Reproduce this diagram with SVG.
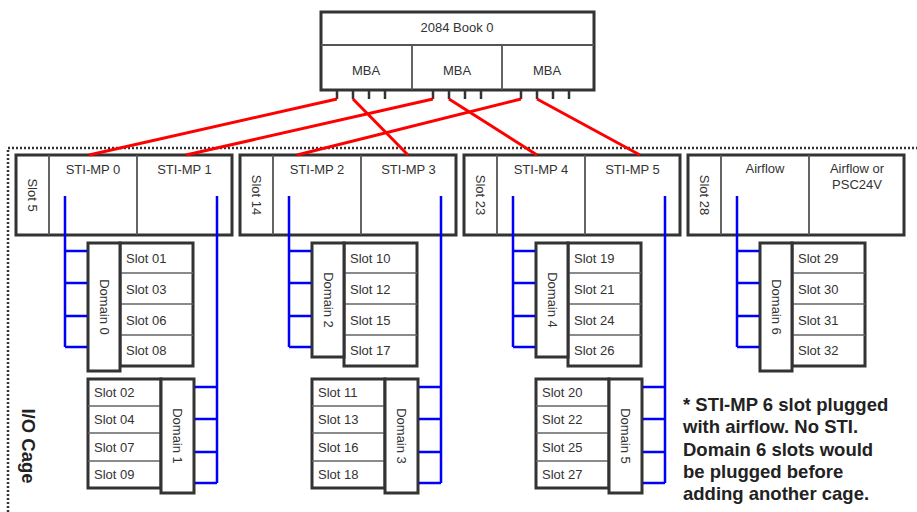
<svg xmlns="http://www.w3.org/2000/svg" width="917" height="512" viewBox="0 0 917 512">
<style>
.bg{fill:#fff}
.box{fill:#fff;stroke:#333;stroke-width:3}
.div{stroke:#555;stroke-width:1.8;fill:none}
.row{stroke:#666;stroke-width:1.5;fill:none}
.tick{stroke:#333;stroke-width:2.5}
.t{font-family:"Liberation Sans",Arial,sans-serif;font-size:13px;fill:#333}
.c{text-anchor:middle}
.r{text-anchor:middle;dominant-baseline:central}
.red{stroke:#f00;stroke-width:3;fill:none}
.blue{stroke:#00f;stroke-width:2.5;fill:none}
.cage{stroke:#333;stroke-width:2.5;stroke-dasharray:2 2;fill:none}
.b{font-family:"Liberation Sans",Arial,sans-serif;font-size:18.5px;font-weight:bold;fill:#222}
</style>
<rect class="bg" x="0" y="0" width="917" height="512"/>

<g id="io-cage">
<path class="cage" d="M8,512 V148 H917"/>
<text class="b r" transform="translate(28,446) rotate(90)">I/O Cage</text>
</g>

<g id="book0">
<rect class="box" x="321" y="12" width="273" height="78"/>
<path class="div" d="M321,45 H594 M412,45 V90 M502,45 V90"/>
<path class="tick" d="M337,90 V99 M353,90 V99 M369,90 V99 M385,90 V99 M433,90 V99 M449,90 V99 M465,90 V99 M481,90 V99 M521,90 V99 M537,90 V99 M553,90 V99 M569,90 V99"/>
<text class="t c" x="457" y="32">2084 Book 0</text>
<text class="t c" x="366" y="75">MBA</text>
<text class="t c" x="457" y="75">MBA</text>
<text class="t c" x="547" y="75">MBA</text>
</g>

<g id="card-slot5">
<rect class="box" x="16" y="155" width="216" height="80"/>
<path class="div" d="M49,155 V235 M137,155 V235"/>
<text class="t r" transform="translate(32.5,195) rotate(90)">Slot 5</text>
<text class="t c" x="93" y="174">STI-MP 0</text>
<text class="t c" x="184.5" y="174">STI-MP 1</text>
</g>
<g id="card-slot14">
<rect class="box" x="240" y="155" width="216" height="80"/>
<path class="div" d="M273,155 V235 M361,155 V235"/>
<text class="t r" transform="translate(256.5,195) rotate(90)">Slot 14</text>
<text class="t c" x="317" y="174">STI-MP 2</text>
<text class="t c" x="408.5" y="174">STI-MP 3</text>
</g>
<g id="card-slot23">
<rect class="box" x="464" y="155" width="216" height="80"/>
<path class="div" d="M497,155 V235 M585,155 V235"/>
<text class="t r" transform="translate(480.5,195) rotate(90)">Slot 23</text>
<text class="t c" x="541" y="174">STI-MP 4</text>
<text class="t c" x="632.5" y="174">STI-MP 5</text>
</g>
<g id="card-slot28">
<rect class="box" x="688" y="155" width="216" height="80"/>
<path class="div" d="M721,155 V235 M809,155 V235"/>
<text class="t r" transform="translate(704.5,195) rotate(90)">Slot 28</text>
<text class="t c" x="765" y="173">Airflow</text>
<text class="t c" x="857" y="173">Airflow or</text>
<text class="t c" x="857" y="189">PSC24V</text>
</g>

<g id="domain0">
<rect class="box" x="120" y="243" width="73" height="123"/>
<path class="row" d="M120,273 H193 M120,304 H193 M120,335 H193"/>
<rect class="box" x="88" y="243" width="32" height="128"/>
<text class="t r" transform="translate(104,307) rotate(90)">Domain 0</text>
<text class="t" x="126" y="263">Slot 01</text>
<text class="t" x="126" y="293.5">Slot 03</text>
<text class="t" x="126" y="324.5">Slot 06</text>
<text class="t" x="126" y="355">Slot 08</text>
</g>
<g id="domain1">
<rect class="box" x="88" y="379" width="73" height="109"/>
<path class="row" d="M88,406 H161 M88,433 H161 M88,461 H161"/>
<rect class="box" x="161" y="379" width="33" height="114"/>
<text class="t r" transform="translate(177.5,436) rotate(90)">Domain 1</text>
<text class="t" x="94" y="397">Slot 02</text>
<text class="t" x="94" y="424">Slot 04</text>
<text class="t" x="94" y="451.5">Slot 07</text>
<text class="t" x="94" y="479">Slot 09</text>
</g>

<g id="domain2">
<rect class="box" x="344" y="243" width="73" height="123"/>
<path class="row" d="M344,273 H417 M344,304 H417 M344,335 H417"/>
<rect class="box" x="312" y="243" width="32" height="114"/>
<text class="t r" transform="translate(328,300) rotate(90)">Domain 2</text>
<text class="t" x="350" y="263">Slot 10</text>
<text class="t" x="350" y="293.5">Slot 12</text>
<text class="t" x="350" y="324.5">Slot 15</text>
<text class="t" x="350" y="355">Slot 17</text>
</g>
<g id="domain3">
<rect class="box" x="312" y="379" width="73" height="109"/>
<path class="row" d="M312,406 H385 M312,433 H385 M312,461 H385"/>
<rect class="box" x="385" y="379" width="33" height="114"/>
<text class="t r" transform="translate(401.5,436) rotate(90)">Domain 3</text>
<text class="t" x="318" y="397">Slot 11</text>
<text class="t" x="318" y="424">Slot 13</text>
<text class="t" x="318" y="451.5">Slot 16</text>
<text class="t" x="318" y="479">Slot 18</text>
</g>

<g id="domain4">
<rect class="box" x="568" y="243" width="73" height="123"/>
<path class="row" d="M568,273 H641 M568,304 H641 M568,335 H641"/>
<rect class="box" x="536" y="243" width="32" height="114"/>
<text class="t r" transform="translate(552,300) rotate(90)">Domain 4</text>
<text class="t" x="574" y="263">Slot 19</text>
<text class="t" x="574" y="293.5">Slot 21</text>
<text class="t" x="574" y="324.5">Slot 24</text>
<text class="t" x="574" y="355">Slot 26</text>
</g>
<g id="domain5">
<rect class="box" x="536" y="379" width="73" height="109"/>
<path class="row" d="M536,406 H609 M536,433 H609 M536,461 H609"/>
<rect class="box" x="609" y="379" width="33" height="114"/>
<text class="t r" transform="translate(625.5,436) rotate(90)">Domain 5</text>
<text class="t" x="542" y="397">Slot 20</text>
<text class="t" x="542" y="424">Slot 22</text>
<text class="t" x="542" y="451.5">Slot 25</text>
<text class="t" x="542" y="479">Slot 27</text>
</g>

<g id="domain6">
<rect class="box" x="792" y="243" width="73" height="123"/>
<path class="row" d="M792,273 H865 M792,304 H865 M792,335 H865"/>
<rect class="box" x="760" y="243" width="32" height="128"/>
<text class="t r" transform="translate(776,307) rotate(90)">Domain 6</text>
<text class="t" x="798" y="263">Slot 29</text>
<text class="t" x="798" y="293.5">Slot 30</text>
<text class="t" x="798" y="324.5">Slot 31</text>
<text class="t" x="798" y="355">Slot 32</text>
</g>

<g id="connectors">
<path class="red" d="M337,99 L89,155 M353,99 L408,155 M433,99 L186,155 M449,99 L537,155 M521,99 L297,155 M537,99 L640,155"/>
<path class="blue" d="M65,196 V347 M65,251 H87 M65,283 H87 M65,316 H87 M65,347 H87 M217,196 V483 M195,387 H217 M195,419 H217 M195,452 H217 M195,483 H217"/>
<path class="blue" d="M289,196 V347 M289,251 H311 M289,283 H311 M289,316 H311 M289,347 H311 M441,196 V483 M419,387 H441 M419,419 H441 M419,452 H441 M419,483 H441"/>
<path class="blue" d="M513,196 V347 M513,251 H535 M513,283 H535 M513,316 H535 M513,347 H535 M665,196 V483 M643,387 H665 M643,419 H665 M643,452 H665 M643,483 H665"/>
<path class="blue" d="M737,196 V347 M737,251 H759 M737,283 H759 M737,316 H759 M737,347 H759"/>
</g>

<g id="note">
<text class="b" x="683" y="411">* STI-MP 6 slot plugged</text>
<text class="b" x="683" y="433">with airflow. No STI.</text>
<text class="b" x="683" y="456">Domain 6 slots would</text>
<text class="b" x="683" y="478">be plugged before</text>
<text class="b" x="683" y="500">adding another cage.</text>
</g>
</svg>
